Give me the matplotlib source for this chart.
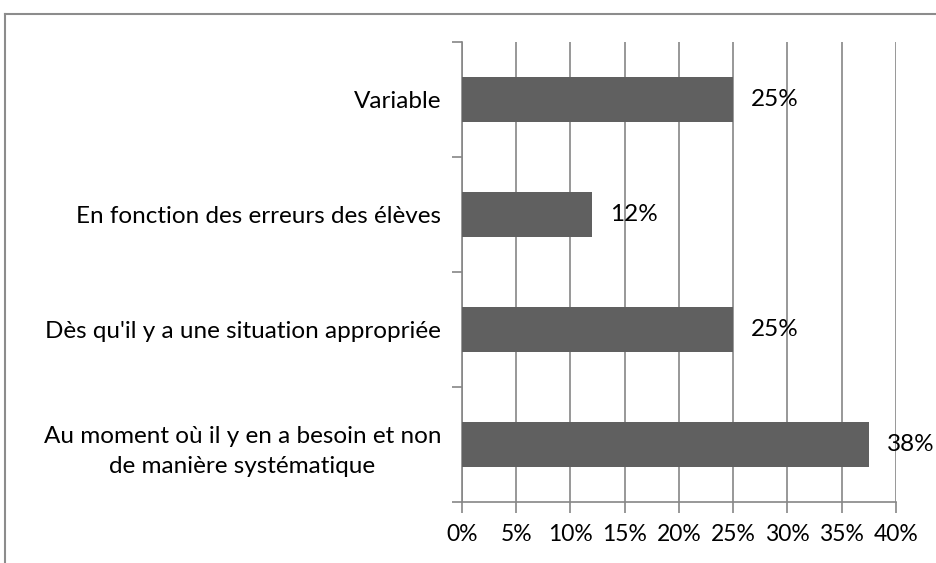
import matplotlib.pyplot as plt
from matplotlib.lines import Line2D
from matplotlib.ticker import FuncFormatter

categories = ["Variable",
              "En fonction des erreurs des élèves",
              "Dès qu'il y a une situation appropriée",
              "Au moment où il y en a besoin et non\nde manière systématique"]
values = [25, 12, 25, 37.5]
xticks = [0, 5, 10, 15, 20, 25, 30, 35, 40]

plt.rcParams['font.family'] = ['Lato', 'DejaVu Sans']
grey = '#868686'

fig = plt.figure(figsize=(9.37, 5.63), dpi=100)
ax = fig.add_axes([0.493, 0.1083, 0.956 - 0.493, 0.9254 - 0.1083])

pos = list(range(len(categories)))
ax.barh(pos, values, height=0.39, color='#606060', zorder=3)
for p, v in zip(pos, values):
    ax.annotate(f"{v:.0f}%", (v, p), xytext=(13, 0), textcoords='offset points',
                va='center', ha='left', fontsize=17.5, color='black', zorder=4)

ax.set_ylim(3.5, -0.5)
ax.set_xlim(0, 40)
ax.set_xticks(xticks)
ax.xaxis.set_major_formatter(FuncFormatter(lambda x, _: f"{x:.0f}%"))
ax.set_yticks(pos)
ax.set_yticklabels(categories, multialignment='center', linespacing=1.55)
ax.set_yticks([-0.5, 0.5, 1.5, 2.5, 3.5], minor=True)
ax.tick_params(axis='y', which='major', length=0, pad=15, labelsize=17.5)
ax.tick_params(axis='y', which='minor', length=7, color=grey, width=1.2, direction='out')
ax.tick_params(axis='x', length=8, color=grey, width=1.2, direction='out', pad=8, labelsize=16.5)

ax.grid(axis='x', color=grey, linewidth=1.2, zorder=0)
for s in ['top', 'right']:
    ax.spines[s].set_visible(False)
for s in ['left', 'bottom']:
    ax.spines[s].set_color(grey)
    ax.spines[s].set_linewidth(1.2)

# chart frame (clipped on right and bottom)
fig.add_artist(Line2D([5 / 937, 1.0], [1 - 14 / 563] * 2, color='#8c8c8c', linewidth=1.5))
fig.add_artist(Line2D([5 / 937] * 2, [0.0, 1 - 14 / 563], color='#8c8c8c', linewidth=1.5))

fig.savefig('out.png', dpi=100)
